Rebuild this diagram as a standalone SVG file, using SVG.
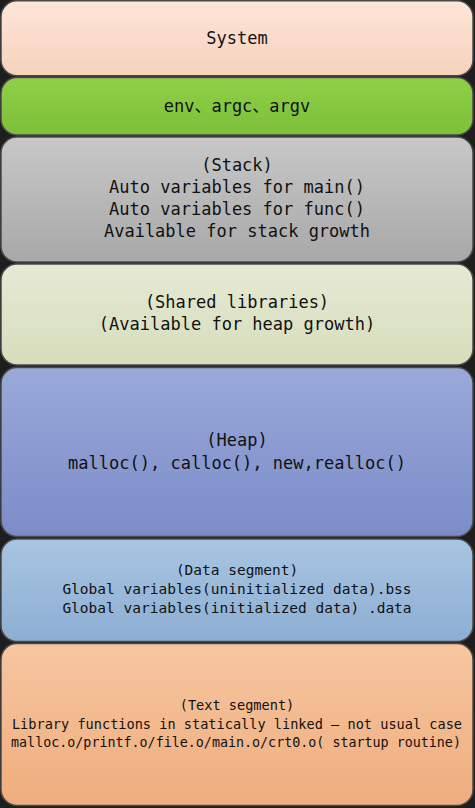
<svg xmlns="http://www.w3.org/2000/svg" width="475" height="808" viewBox="0 0 475 808">
<defs>
<linearGradient id="gSys" x1="0" y1="0" x2="0" y2="1"><stop offset="0" stop-color="#fde6d8"/><stop offset="1" stop-color="#f6d2bc"/></linearGradient>
<linearGradient id="gEnv" x1="0" y1="0" x2="0" y2="1"><stop offset="0" stop-color="#90d048"/><stop offset="1" stop-color="#7cbf38"/></linearGradient>
<linearGradient id="gStk" x1="0" y1="0" x2="0" y2="1"><stop offset="0" stop-color="#c8c8c8"/><stop offset="1" stop-color="#a8a8a8"/></linearGradient>
<linearGradient id="gShl" x1="0" y1="0" x2="0" y2="1"><stop offset="0" stop-color="#e6ead4"/><stop offset="1" stop-color="#d6ddbb"/></linearGradient>
<linearGradient id="gHeap" x1="0" y1="0" x2="0" y2="1"><stop offset="0" stop-color="#9aa9da"/><stop offset="1" stop-color="#7b8cc8"/></linearGradient>
<linearGradient id="gData" x1="0" y1="0" x2="0" y2="1"><stop offset="0" stop-color="#a8c5e2"/><stop offset="1" stop-color="#8daed3"/></linearGradient>
<linearGradient id="gText" x1="0" y1="0" x2="0" y2="1"><stop offset="0" stop-color="#f7c6a0"/><stop offset="1" stop-color="#efad7d"/></linearGradient>
</defs>
<style>
.box{stroke:#4a4a4a;stroke-width:1.5}
.t{font-family:"DejaVu Sans Mono","Liberation Mono","Noto Sans CJK SC",monospace;fill:#111;text-anchor:middle;font-size:17px}
.s{font-size:14.5px}
.xs{font-size:13.6px}
.xxs{font-size:13.35px}
</style>
<rect x="0" y="0" width="475" height="808" fill="#1e1e1e"/>
<g id="system">
<rect class="box" x="1" y="0.75" width="472" height="75" rx="16" fill="url(#gSys)"/>
<text class="t" x="237" y="43.5">System</text>
</g>
<g id="env">
<rect class="box" x="1" y="77.5" width="472" height="57.5" rx="16" fill="url(#gEnv)"/>
<text class="t" x="237" y="111.5">env、argc、argv</text>
</g>
<g id="stack">
<rect class="box" x="1" y="137" width="472" height="125" rx="16" fill="url(#gStk)"/>
<text class="t" x="237" y="170.5">(Stack)</text>
<text class="t" x="237" y="192.5">Auto variables for main()</text>
<text class="t" x="237" y="215">Auto variables for func()</text>
<text class="t" x="237" y="237">Available for stack growth</text>
</g>
<g id="shared">
<rect class="box" x="1" y="264" width="472" height="101" rx="16" fill="url(#gShl)"/>
<text class="t" x="237" y="308">(Shared libraries)</text>
<text class="t" x="237" y="330">(Available for heap growth)</text>
</g>
<g id="heap">
<rect class="box" x="1" y="367.5" width="472" height="169" rx="16" fill="url(#gHeap)"/>
<text class="t" x="237" y="446">(Heap)</text>
<text class="t" x="237" y="468.5">malloc(), calloc(), new,realloc()</text>
</g>
<g id="data">
<rect class="box" x="1" y="539" width="472" height="102.5" rx="16" fill="url(#gData)"/>
<text class="t s" x="237" y="575">(Data segment)</text>
<text class="t s" x="237" y="594">Global variables(uninitialized data).bss</text>
<text class="t s" x="237" y="613">Global variables(initialized data) .data</text>
</g>
<g id="text">
<rect class="box" x="1" y="643.5" width="472" height="162" rx="16" fill="url(#gText)"/>
<text class="t xs" x="237" y="710">(Text segment)</text>
<text class="t xs" x="237" y="728.5">Library functions in statically linked – not usual case</text>
<text class="t xxs" x="236" y="747">malloc.o/printf.o/file.o/main.o/crt0.o( startup routine)</text>
</g>
<g id="connectors"/>
</svg>
